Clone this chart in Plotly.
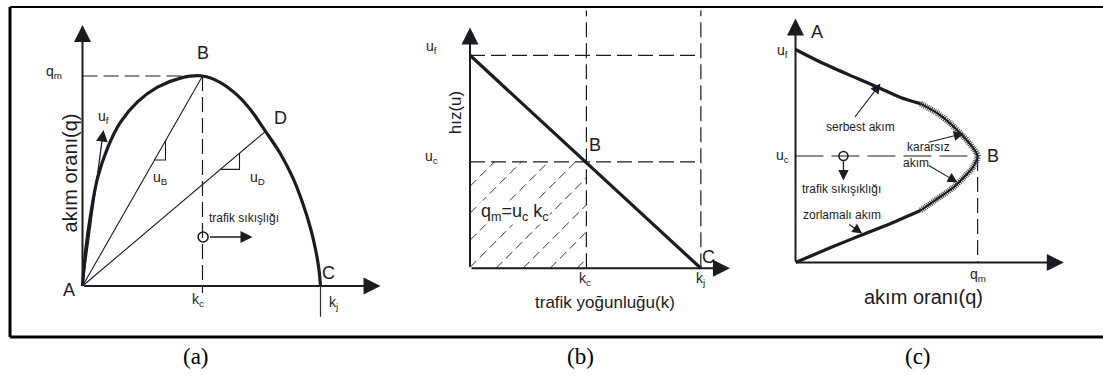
import plotly.graph_objects as go

W, H = 1103, 376
INK = "#1b1b24"
FONT = "Liberation Sans, Arial, sans-serif"

# ---- characteristic values (k: veh/km, u: km/h, q: 100 veh/h) ----
k_c, k_j = 60, 119
u_f, u_c = 100, 50
q_m = 30
k_D, q_D = 91.5, 22.1

# (a) flow–density curve q(k)
k_curve = [0, 1.5, 4, 7.5, 12.5, 19, 27.5, 37.5, 49, 60, 68.75, 77.25, 83.75, 91.5,
           98.75, 105.25, 110.25, 114.25, 116.75, 118.25, 119]
q_curve = [0, 4.9, 10.1, 15.4, 19.7, 23.4, 26.3, 28.4, 29.7, 30, 29.1, 27.3, 25.3, 22.1,
           19.0, 15.4, 11.7, 8.0, 4.9, 2.3, 0]

# (b) speed–density line u(k)
k_line = [0, k_j]
u_line = [u_f, 0]

# (c) speed–flow curve u(q): free flow, unstable, forced flow
q_free = [0, 4.6, 10.2, 14.0, 17.3, 20.6]
u_free = [100, 93.4, 86.4, 81.7, 77.5, 74.6]
q_unst = [20.6, 23.4, 25.5, 27.5, 29.2, 30, 29.2, 27.7, 26.0, 23.4, 20.6]
u_unst = [74.6, 70, 65.3, 59.6, 54, 50, 44.6, 39.9, 35.2, 30, 24.4]
q_forced = [20.6, 15.7, 10.7, 5.8, 0]
u_forced = [24.4, 18.3, 12.7, 7, 0]

panel_names = ["(a)", "(b)", "(c)"]


def axes_for(box, origin, scale):
    """box=(left, right, top, bottom) px, origin=px of (0,0), scale=px per unit."""
    x0, x1, yt, yb = box
    ox, oy = origin
    sx, sy = scale
    return dict(
        xdom=[x0 / W, x1 / W], ydom=[1 - yb / H, 1 - yt / H],
        xr=[(x0 - ox) / sx, (x1 - ox) / sx], yr=[(oy - yb) / sy, (oy - yt) / sy],
    )


A = axes_for((15, 385, 10, 330), (82.5, 286), (2.0, 7.0))
B = axes_for((400, 742, 9, 330), (470, 268.3), (1.94, 2.13))
C = axes_for((745, 1100, 9, 330), (795.5, 262.5), (6.07, 2.13))

fig = go.Figure()

layout = dict(
    width=W, height=H, margin=dict(l=0, r=0, t=0, b=0),
    paper_bgcolor="white", plot_bgcolor="rgba(0,0,0,0)", showlegend=False,
    font=dict(family=FONT, color=INK),
)
for i, P in enumerate([A, B, C], start=1):
    sfx = "" if i == 1 else str(i)
    layout["xaxis" + sfx] = dict(domain=P["xdom"], range=P["xr"], visible=False,
                                 fixedrange=True, anchor="y" + sfx)
    layout["yaxis" + sfx] = dict(domain=P["ydom"], range=P["yr"], visible=False,
                                 fixedrange=True, anchor="x" + sfx)
fig.update_layout(**layout)

DASH = "15px,6px"


def line(xa, ya, xs, ys, width=1.2, dash=None, color=INK, shape="linear"):
    fig.add_trace(go.Scatter(x=xs, y=ys, mode="lines", xaxis=xa, yaxis=ya,
                             line=dict(color=color, width=width, dash=dash, shape=shape,
                                       smoothing=0.8),
                             hoverinfo="skip"))


def arrow(xa, ya, x0, y0, x1, y1, width=1.2, size=1.5):
    fig.add_annotation(x=x1, y=y1, ax=x0, ay=y0, xref=xa, yref=ya, axref=xa, ayref=ya,
                       showarrow=True, arrowhead=2, arrowsize=size, arrowwidth=width,
                       arrowcolor=INK, text="", standoff=0)


def label(xa, ya, x, y, text, size=13, angle=0, family=FONT, bg=None):
    fig.add_annotation(x=x, y=y, xref=xa, yref=ya, text=text, showarrow=False,
                       textangle=angle, xanchor="center", yanchor="middle",
                       bgcolor=bg, borderpad=0,
                       font=dict(size=size, family=family, color=INK))


def circle(xa, ya, x, y, size=10):
    fig.add_trace(go.Scatter(x=[x], y=[y], mode="markers", xaxis=xa, yaxis=ya,
                             marker=dict(symbol="circle-open", size=size, color=INK,
                                         line=dict(color=INK, width=1.6)),
                             hoverinfo="skip"))


def slope_triangle(xa, ya, slope, x1, x2):
    line(xa, ya, [x1, x2, x2], [slope * x1, slope * x1, slope * x2], width=1.1)


# ================= (a) q-k =================
xa, ya = "x", "y"
line(xa, ya, [0, k_c], [q_m, q_m], dash=DASH)
line(xa, ya, [k_c, k_c], [q_m, -1], dash=DASH)
line(xa, ya, [k_j, k_j], [0, -4.4], width=1.2, color="#333")
line(xa, ya, [0, k_c], [0, q_m], width=1.1)
line(xa, ya, [0, k_D], [0, q_D], width=1.1)
slope_triangle(xa, ya, q_m / k_c, 36, 41.5)
slope_triangle(xa, ya, q_D / k_D, 69, 78.5)
line(xa, ya, k_curve, q_curve, width=3.2, shape="spline")
arrow(xa, ya, 0, 0, 149, 0, width=2, size=1.7)
arrow(xa, ya, 0, 0, 0, 37.3, width=2, size=1.7)
arrow(xa, ya, 0, 0, 10.5, 22.3, width=1.3, size=1.8)
circle(xa, ya, 60.3, 7)
arrow(xa, ya, 63, 7, 85, 7, width=1.5, size=1.6)

label(xa, ya, -14.5, 30.6, "q<sub>m</sub>", 14)
label(xa, ya, -7, -0.6, "A", 18)
label(xa, ya, 60, 33.3, "B", 18)
label(xa, ya, 123, 1.9, "C", 18)
label(xa, ya, 99, 24, "D", 18)
label(xa, ya, 57.5, -2, "k<sub>c</sub>", 14)
label(xa, ya, 125.5, -2.4, "k<sub>j</sub>", 14)
label(xa, ya, 10.5, 24.1, "u<sub>f</sub>", 14)
label(xa, ya, 39, 15.4, "u<sub>B</sub>", 14)
label(xa, ya, 87.5, 15.4, "u<sub>D</sub>", 14)
label(xa, ya, 80.5, 9.7, "trafik sıkışlığı", 12)
label(xa, ya, -6.2, 16.1, "akım oranı(q)", 20, angle=-90)

# ================= (b) u-k =================
xa, ya = "x2", "y2"
# hatched area q_m = u_c * k_c
sx_b, sy_b = 1.94, 2.13
spacing = 27.0
w_px, h_px = k_c * sx_b, u_c * sy_b
c = -82.0 - spacing
while c < w_px:
    # 45 degree line in pixel space (y_px = x_px - c), clipped to the rectangle
    xs0 = max(0.0, c)
    xs1 = min(w_px, h_px + c)
    if xs1 > xs0:
        line(xa, ya, [xs0 / sx_b, xs1 / sx_b], [(xs0 - c) / sy_b, (xs1 - c) / sy_b],
             width=1.0, dash="9px,5px", color="#333")
    c += spacing
line(xa, ya, [0, k_j], [u_f, u_f], dash=DASH)
line(xa, ya, [0, k_j], [u_c, u_c], dash=DASH)
line(xa, ya, [k_c, k_c], [0, 121], dash=DASH)
line(xa, ya, [k_j, k_j], [0, 121], dash=DASH)
line(xa, ya, k_line, u_line, width=3.2)
arrow(xa, ya, 0, 0, 134, 0, width=2, size=1.7)
arrow(xa, ya, 0, 0, 0, 113, width=2, size=1.7)

label(xa, ya, -19.6, 103.8, "u<sub>f</sub>", 14)
label(xa, ya, -19.6, 52.1, "u<sub>c</sub>", 14)
label(xa, ya, -7.7, 72.8, "hız(u)", 17, angle=-90)
label(xa, ya, 64.4, 57.7, "B", 18)
label(xa, ya, 122.7, 5.2, "C", 18)
label(xa, ya, 59.3, -4.9, "k<sub>c</sub>", 14)
label(xa, ya, 118.6, -4.9, "k<sub>j</sub>", 14)
label(xa, ya, 69.6, -16, "trafik yoğunluğu(k)", 17)
label(xa, ya, 23.2, 26.3, "q<sub>m</sub>=u<sub>c</sub> k<sub>c</sub>", 18, bg="white")

# ================= (c) u-q =================
xa, ya = "x3", "y3"
line(xa, ya, [0, q_m], [u_c, u_c], dash="28px,8px")
line(xa, ya, [q_m, q_m], [u_c, 0], dash=DASH)
line(xa, ya, q_free, u_free, width=3.2, shape="spline")
line(xa, ya, q_unst, u_unst, width=6, dash="1px,1px", color="#444", shape="spline")
line(xa, ya, q_unst, u_unst, width=2, shape="spline")
line(xa, ya, q_forced, u_forced, width=3.2, shape="spline")
arrow(xa, ya, 0, 0, 44.2, 0, width=2, size=1.7)
arrow(xa, ya, 0, 0, 0, 114.6, width=2, size=1.7)
circle(xa, ya, 7.9, 50, size=9)
arrow(xa, ya, 7.9, 48.2, 7.9, 38.5, width=1.3, size=1.6)
arrow(xa, ya, 9.6, 67.6, 14, 84, width=1.1, size=1.8)
arrow(xa, ya, 21.7, 56.3, 27.7, 60.6, width=1.1, size=1.8)
arrow(xa, ya, 21.7, 46, 26.7, 37.6, width=1.1, size=1.8)
arrow(xa, ya, 8.6, 18.3, 11, 13.6, width=1.1, size=1.8)

label(xa, ya, 3.6, 108, "A", 18)
label(xa, ya, 32.6, 50.2, "B", 18)
label(xa, ya, -2.1, 99.5, "u<sub>f</sub>", 14)
label(xa, ya, -2.1, 50.2, "u<sub>c</sub>", 14)
label(xa, ya, 30, -6.1, "q<sub>m</sub>", 14)
label(xa, ya, 21.1, -16.4, "akım oranı(q)", 20)
label(xa, ya, 7.6, 34.7, "trafik sıkışıklığı", 12)
label(xa, ya, 10.7, 63.4, "serbest akım", 12)
label(xa, ya, 21.9, 54, "kararsız", 12)
label(xa, ya, 19.8, 46.5, "akım", 12)
label(xa, ya, 7.7, 22.1, "zorlamalı akım", 12)

# ---- frame and panel captions ----
for x0, y0, x1, y1, w in [(10, 7, 10, 337, 3), (10, 7, W, 7, 2), (10, 337, W, 337, 3)]:
    fig.add_shape(type="line", xref="paper", yref="paper",
                  x0=x0 / W, x1=x1 / W, y0=1 - y0 / H, y1=1 - y1 / H,
                  line=dict(color="black", width=w))
for name, xc in zip(panel_names, [196, 580, 918]):
    fig.add_annotation(x=xc / W, y=1 - 356 / H, xref="paper", yref="paper", text=name,
                       xanchor="center", yanchor="middle", showarrow=False,
                       font=dict(size=23, family="Liberation Serif, Times New Roman, serif",
                                 color="black"))

fig.write_html("out.html")
